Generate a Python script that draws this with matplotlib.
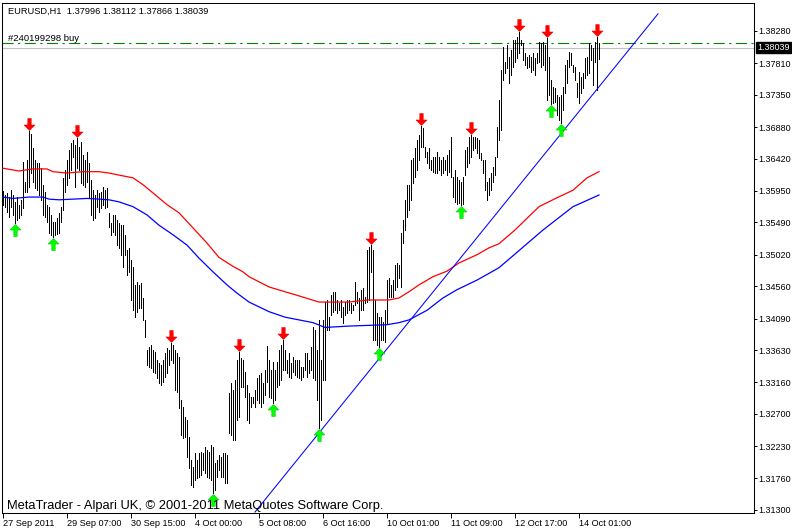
import matplotlib
matplotlib.use("Agg")
import matplotlib.pyplot as plt
import numpy as np
from matplotlib.path import Path
from matplotlib.transforms import blended_transform_factory

# EURUSD H1 bars (high / low), 27 Sep 2011 23:00 .. 14 Oct 2011 11:00
highs = [
    1.3595, 1.3589, 1.3592, 1.3586, 1.3596, 1.3589, 1.3579, 1.3586, 1.3575, 1.3582,
    1.3637, 1.3608, 1.3640, 1.3682, 1.3678, 1.3658, 1.3640, 1.3636, 1.3636, 1.3628,
    1.3604, 1.3593, 1.3575, 1.3572, 1.3560, 1.3550, 1.3550, 1.3556, 1.3563, 1.3572,
    1.3614, 1.3626, 1.3640, 1.3655, 1.3665, 1.3669, 1.3662, 1.3672, 1.3659, 1.3666,
    1.3647, 1.3640, 1.3652, 1.3636, 1.3611, 1.3596, 1.3589, 1.3596, 1.3592, 1.3593,
    1.3601, 1.3596, 1.3599, 1.3563, 1.3548, 1.3560, 1.3560, 1.3553, 1.3548, 1.3545,
    1.3545, 1.3531, 1.3509, 1.3512, 1.3494, 1.3484, 1.3458, 1.3462, 1.3458, 1.3461,
    1.3439, 1.3407, 1.3363, 1.3368, 1.3371, 1.3363, 1.3360, 1.3349, 1.3344, 1.3341,
    1.3349, 1.3359, 1.3366, 1.3363, 1.3373, 1.3371, 1.3363, 1.3359, 1.3353, 1.3290,
    1.3280, 1.3266, 1.3261, 1.3236, 1.3203, 1.3193, 1.3213, 1.3203, 1.3213, 1.3215,
    1.3213, 1.3222, 1.3218, 1.3215, 1.3225, 1.3222, 1.3199, 1.3203, 1.3210, 1.3207,
    1.3213, 1.3213, 1.3210, 1.3301, 1.3315, 1.3305, 1.3320, 1.3349, 1.3360, 1.3352,
    1.3349, 1.3331, 1.3312, 1.3301, 1.3295, 1.3295, 1.3305, 1.3322, 1.3327, 1.3330,
    1.3315, 1.3334, 1.3369, 1.3349, 1.3334, 1.3346, 1.3334, 1.3346, 1.3363, 1.3371,
    1.3378, 1.3363, 1.3349, 1.3359, 1.3344, 1.3353, 1.3349, 1.3349, 1.3349, 1.3338,
    1.3338, 1.3359, 1.3359, 1.3349, 1.3368, 1.3397, 1.3392, 1.3363, 1.3407, 1.3349,
    1.3407, 1.3433, 1.3436, 1.3411, 1.3443, 1.3448, 1.3448, 1.3436, 1.3432, 1.3436,
    1.3426, 1.3433, 1.3436, 1.3436, 1.3432, 1.3429, 1.3462, 1.3448, 1.3439, 1.3451,
    1.3454, 1.3440, 1.3509, 1.3513, 1.3516, 1.3509, 1.3436, 1.3417, 1.3411, 1.3411,
    1.3404, 1.3421, 1.3465, 1.3468, 1.3458, 1.3465, 1.3487, 1.3490, 1.3487, 1.3534,
    1.3553, 1.3582, 1.3604, 1.3604, 1.3640, 1.3643, 1.3658, 1.3669, 1.3677, 1.3690,
    1.3687, 1.3659, 1.3652, 1.3658, 1.3640, 1.3644, 1.3644, 1.3652, 1.3644, 1.3640,
    1.3644, 1.3640, 1.3647, 1.3655, 1.3674, 1.3615, 1.3626, 1.3615, 1.3611, 1.3608,
    1.3615, 1.3655, 1.3659, 1.3674, 1.3677, 1.3674, 1.3674, 1.3672, 1.3669, 1.3650,
    1.3640, 1.3640, 1.3608, 1.3614, 1.3621, 1.3630, 1.3644, 1.3688, 1.3728, 1.3771,
    1.3805, 1.3783, 1.3808, 1.3790, 1.3800, 1.3815, 1.3815, 1.3819, 1.3827, 1.3815,
    1.3811, 1.3796, 1.3790, 1.3793, 1.3790, 1.3796, 1.3789, 1.3796, 1.3812, 1.3811,
    1.3812, 1.3808, 1.3818, 1.3790, 1.3757, 1.3746, 1.3745, 1.3735, 1.3732, 1.3735,
    1.3746, 1.3779, 1.3786, 1.3798, 1.3796, 1.3779, 1.3776, 1.3752, 1.3768, 1.3761,
    1.3767, 1.3789, 1.3790, 1.3811, 1.3808, 1.3803, 1.3812, 1.3819, 1.38112,
]
lows = [
    1.3575, 1.3572, 1.3564, 1.3557, 1.3572, 1.3560, 1.3548, 1.3553, 1.3556, 1.3560,
    1.3570, 1.3593, 1.3593, 1.3601, 1.3621, 1.3608, 1.3599, 1.3596, 1.3589, 1.3582,
    1.3560, 1.3557, 1.3550, 1.3534, 1.3531, 1.3528, 1.3531, 1.3532, 1.3534, 1.3550,
    1.3567, 1.3593, 1.3604, 1.3614, 1.3626, 1.3644, 1.3601, 1.3628, 1.3626, 1.3607,
    1.3604, 1.3601, 1.3608, 1.3586, 1.3560, 1.3553, 1.3556, 1.3572, 1.3564, 1.3570,
    1.3575, 1.3570, 1.3572, 1.3542, 1.3531, 1.3535, 1.3531, 1.3516, 1.3512, 1.3502,
    1.3484, 1.3502, 1.3473, 1.3477, 1.3436, 1.3421, 1.3411, 1.3419, 1.3424, 1.3424,
    1.3407, 1.3382, 1.3341, 1.3338, 1.3337, 1.3331, 1.3330, 1.3322, 1.3315, 1.3312,
    1.3317, 1.3324, 1.3330, 1.3341, 1.3349, 1.3344, 1.3305, 1.3302, 1.3279, 1.3239,
    1.3235, 1.3236, 1.3207, 1.3191, 1.3167, 1.3164, 1.3174, 1.3177, 1.3178, 1.3181,
    1.3188, 1.3184, 1.3178, 1.3177, 1.3174, 1.3155, 1.3159, 1.3178, 1.3188, 1.3178,
    1.3178, 1.3169, 1.3169, 1.3242, 1.3239, 1.3232, 1.3232, 1.3261, 1.3266, 1.3309,
    1.3309, 1.3295, 1.3261, 1.3257, 1.3280, 1.3286, 1.3280, 1.3290, 1.3286, 1.3280,
    1.3286, 1.3298, 1.3317, 1.3295, 1.3293, 1.3286, 1.3290, 1.3309, 1.3312, 1.3320,
    1.3334, 1.3334, 1.3330, 1.3324, 1.3322, 1.3331, 1.3327, 1.3324, 1.3322, 1.3320,
    1.3324, 1.3334, 1.3324, 1.3330, 1.3334, 1.3322, 1.3320, 1.3290, 1.3250, 1.3261,
    1.3320, 1.3320, 1.3392, 1.3392, 1.3414, 1.3419, 1.3421, 1.3417, 1.3421, 1.3411,
    1.3403, 1.3414, 1.3417, 1.3421, 1.3417, 1.3421, 1.3429, 1.3432, 1.3407, 1.3421,
    1.3421, 1.3432, 1.3433, 1.3436, 1.3477, 1.3378, 1.3378, 1.3371, 1.3368, 1.3378,
    1.3378, 1.3375, 1.3403, 1.3440, 1.3440, 1.3440, 1.3451, 1.3455, 1.3468, 1.3455,
    1.3519, 1.3538, 1.3557, 1.3567, 1.3582, 1.3607, 1.3615, 1.3626, 1.3640, 1.3659,
    1.3659, 1.3644, 1.3636, 1.3628, 1.3626, 1.3623, 1.3621, 1.3621, 1.3626, 1.3618,
    1.3621, 1.3626, 1.3618, 1.3623, 1.3615, 1.3586, 1.3579, 1.3576, 1.3577, 1.3575,
    1.3576, 1.3618, 1.3630, 1.3636, 1.3644, 1.3655, 1.3658, 1.3650, 1.3643, 1.3640,
    1.3621, 1.3596, 1.3582, 1.3589, 1.3596, 1.3608, 1.3618, 1.3644, 1.3669, 1.3684,
    1.3757, 1.3767, 1.3774, 1.3752, 1.3764, 1.3776, 1.3783, 1.3789, 1.3796, 1.3808,
    1.3786, 1.3779, 1.3774, 1.3776, 1.3768, 1.3771, 1.3764, 1.3781, 1.3783, 1.3776,
    1.3779, 1.3771, 1.3728, 1.3735, 1.3722, 1.3723, 1.3725, 1.3706, 1.3698, 1.3694,
    1.3713, 1.3738, 1.3752, 1.3776, 1.3779, 1.3768, 1.3757, 1.3732, 1.3723, 1.3738,
    1.3745, 1.3760, 1.3764, 1.3767, 1.3786, 1.3749, 1.3783, 1.3742, 1.37866,
]

# moving averages, sampled at bar indices
ma_red_idx = [0, 8, 15, 22, 25, 32, 40, 48, 53, 58, 65, 70, 75, 82, 88, 95, 102, 108,
              115, 120, 123, 133, 141, 148, 158, 173, 182, 193, 198, 203, 208, 215, 222,
              228, 237, 243, 248, 256, 268, 277, 285, 292, 298]
ma_red = [1.3628, 1.3624, 1.3627, 1.3627, 1.3623, 1.3621, 1.3623, 1.3623, 1.3621, 1.3618,
          1.3614, 1.3604, 1.3592, 1.3575, 1.3563, 1.3541, 1.3519, 1.3498, 1.3485, 1.3477,
          1.3470, 1.3455, 1.3448, 1.3442, 1.3433, 1.3433, 1.3436, 1.3436, 1.3439, 1.3448,
          1.3458, 1.3470, 1.3478, 1.3490, 1.3502, 1.3512, 1.3518, 1.3538, 1.3572, 1.3585,
          1.3596, 1.3614, 1.3623]
ma_blue_idx = [0, 5, 13, 20, 23, 28, 35, 42, 48, 53, 58, 65, 72, 78, 85, 92, 98, 105,
               112, 117, 123, 133, 141, 148, 155, 161, 173, 192, 198, 203, 212, 220, 227,
               237, 248, 270, 285, 298]
ma_blue = [1.3586, 1.3584, 1.3586, 1.3586, 1.3583, 1.3582, 1.3583, 1.3584, 1.3583, 1.3582,
           1.3579, 1.3572, 1.3560, 1.3545, 1.3531, 1.3516, 1.3497, 1.3477, 1.3458, 1.3446,
           1.3433, 1.3419, 1.3411, 1.3407, 1.3403, 1.3396, 1.3398, 1.3400, 1.3403, 1.3407,
           1.3421, 1.3439, 1.3451, 1.3465, 1.3483, 1.3538, 1.3572, 1.3589]

# fractals
frac_up = [13, 37, 84, 118, 140, 184, 209, 234, 258, 272, 297]
frac_down = [6, 25, 105, 135, 158, 188, 229, 274, 279]

# trend line anchors (bar index, price)
trend_idx = [126, 327.5]
trend_price = [1.3127, 1.3853]

order_price = 1.38105
bid = 1.38039

price_ticks = [1.38280, 1.37810, 1.37350, 1.36880, 1.36420, 1.35950, 1.35490, 1.35020,
               1.34560, 1.34090, 1.33630, 1.33160, 1.32700, 1.32230, 1.31760, 1.31300]
date_ticks = [0, 32, 64, 96, 128, 160, 192, 224, 256, 288]
date_labels = ["27 Sep 2011", "29 Sep 07:00", "30 Sep 15:00", "4 Oct 00:00", "5 Oct 08:00",
               "6 Oct 16:00", "10 Oct 01:00", "11 Oct 09:00", "12 Oct 17:00", "14 Oct 01:00"]

plt.rcParams['font.family'] = ['Liberation Sans', 'DejaVu Sans']

fig = plt.figure(figsize=(7.92, 5.30), dpi=100)
ax = fig.add_axes([2 / 792, 17 / 530, 752 / 792, 510 / 530])

idx = np.arange(len(highs))
ax.vlines(idx, lows, highs, colors='black', linewidth=0.5, antialiased=False, zorder=2)

ax.plot(ma_red_idx, ma_red, color='#ff0000', lw=0.9, zorder=3)
ax.plot(ma_blue_idx, ma_blue, color='#0000ff', lw=0.9, zorder=3)
ax.plot(trend_idx, trend_price, color='#0000ff', lw=0.75, zorder=3)

ax.axhline(bid, color='#c0c0c0', lw=0.8, zorder=1)
ax.axhline(order_price, color='#008000', lw=0.8, linestyle=(0, (10, 4, 2, 4)), zorder=1)

# fractal arrows (pixel units, offset from the bar extreme)
down_arrow = Path([(0, 1), (5.5, 6.5), (1.7, 6.5), (1.7, 13), (-1.7, 13), (-1.7, 6.5), (-5.5, 6.5), (0, 1)],
                  [Path.MOVETO] + [Path.LINETO] * 6 + [Path.CLOSEPOLY])
up_arrow = Path([(0, -1), (5.5, -6.5), (1.7, -6.5), (1.7, -13), (-1.7, -13), (-1.7, -6.5), (-5.5, -6.5), (0, -1)],
                [Path.MOVETO] + [Path.LINETO] * 6 + [Path.CLOSEPOLY])
ms = 26 * 0.72
ax.plot(frac_up, [highs[i] for i in frac_up], linestyle='none', marker=down_arrow,
        ms=ms, color='#ff0000', mec='#ff0000', mew=0.4, zorder=4)
ax.plot(frac_down, [lows[i] for i in frac_down], linestyle='none', marker=up_arrow,
        ms=ms, color='#00ff00', mec='#00d000', mew=0.4, zorder=4)

ax.set_xlim(-0.5, 375.5)
ax.set_ylim(1.31256, 1.38688)

for s in ax.spines.values():
    s.set_linewidth(0.75)
    s.set_color('black')

ax.yaxis.tick_right()
ax.set_yticks(price_ticks)
ax.set_yticklabels(["%.5f" % p for p in price_ticks])
ax.tick_params(axis='y', direction='out', length=2.2, width=0.7, pad=0.8, labelsize=6.5)
ax.set_xticks(date_ticks)
ax.set_xticklabels(date_labels)
ax.tick_params(axis='x', direction='out', length=3.5, width=0.7, pad=1, labelsize=6.6)
for lab in ax.get_xticklabels():
    lab.set_horizontalalignment('left')

# current bid label on the price scale
ax.annotate("%.5f" % bid, xy=(1, bid), xycoords=('axes fraction', 'data'),
            xytext=(3, 0), textcoords='offset pixels', ha='left', va='center',
            fontsize=6.5, color='white', annotation_clip=False,
            bbox=dict(boxstyle='square,pad=0.15', facecolor='black', edgecolor='black'))

tr = blended_transform_factory(ax.transAxes, ax.transData)
ax.text(0.008, order_price, "#240199298 buy", transform=tr, ha='left', va='bottom',
        fontsize=6.8)

fig.text(8 / 792, 1 - 11 / 530, "EURUSD,H1  1.37996 1.38112 1.37866 1.38039",
         ha='left', va='center', fontsize=6.7)
fig.text(7 / 792, 1 - 506 / 530, "MetaTrader - Alpari UK, \u00a9 2001-2011 MetaQuotes Software Corp.",
         ha='left', va='center', fontsize=9.3)

fig.savefig("out.png", dpi=100)
